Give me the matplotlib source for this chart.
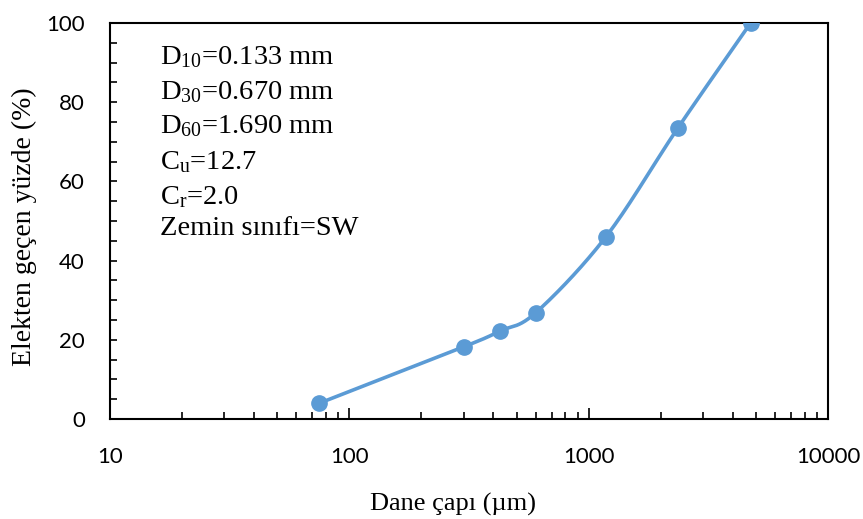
import numpy as np
import matplotlib
matplotlib.use('Agg')
import matplotlib.pyplot as plt
from matplotlib.ticker import MultipleLocator, FixedLocator, NullFormatter

# sieve sizes (um) and percent passing
grain_size = [75, 300, 425, 600, 1180, 2360, 4750]
passing = [4.0, 18.2, 22.2, 26.8, 46.0, 73.5, 100.0]

info_lines = [r'D$_{10}$=0.133 mm', r'D$_{30}$=0.670 mm', r'D$_{60}$=1.690 mm',
              r'C$_{\mathrm{u}}$=12.7', r'C$_{\mathrm{r}}$=2.0', 'Zemin sınıfı=SW']

plt.rcParams['mathtext.fontset'] = 'custom'
plt.rcParams['mathtext.rm'] = 'Liberation Serif'
plt.rcParams['mathtext.it'] = 'Liberation Serif:italic'

color = '#5B9BD5'


def smooth(xs, ys, n=40):
    # Excel-like smoothed line: cubic bezier with Catmull-Rom tangents in screen-ish space
    u = np.log10(xs) * 239.3
    v = np.array(ys) * 3.96
    P = np.column_stack([u, v])
    out = [P[0]]
    for i in range(len(P) - 1):
        p0 = P[i - 1] if i > 0 else P[i]
        p1, p2 = P[i], P[i + 1]
        p3 = P[i + 2] if i + 2 < len(P) else P[i + 1]
        c1 = p1 + (p2 - p0) / 6
        c2 = p2 - (p3 - p1) / 6
        t = np.linspace(0, 1, n)[1:, None]
        seg = ((1 - t) ** 3) * p1 + 3 * ((1 - t) ** 2) * t * c1 + 3 * (1 - t) * t ** 2 * c2 + t ** 3 * p2
        out.extend(seg)
    out = np.array(out)
    return 10 ** (out[:, 0] / 239.3), out[:, 1] / 3.96


fig = plt.figure(figsize=(8.63, 5.19), dpi=100)
ax = fig.add_axes([110 / 863, 1 - 419 / 519, 718 / 863, 396 / 519])

sx, sy = smooth(grain_size, passing)
ax.plot(sx, sy, color=color, lw=2.6, solid_capstyle='round', zorder=3)
ax.plot(grain_size, passing, 'o', color=color, ms=11, zorder=4)

ax.set_xscale('log')
ax.set_xlim(10, 10000)
ax.set_ylim(0, 100)
ax.yaxis.set_major_locator(MultipleLocator(20))
ax.yaxis.set_minor_locator(MultipleLocator(5))
ax.xaxis.set_major_locator(FixedLocator([10, 100, 1000, 10000]))
ax.xaxis.set_major_formatter(matplotlib.ticker.FuncFormatter(lambda v, p: '%d' % v))
ax.xaxis.set_minor_formatter(NullFormatter())

for s in ax.spines.values():
    s.set_linewidth(1.5)

ax.tick_params(axis='both', which='both', direction='in', width=1.2, labelsize=16)
ax.tick_params(axis='y', which='both', length=5, pad=18)
ax.tick_params(axis='x', which='major', length=8, pad=20)
ax.tick_params(axis='x', which='minor', length=5)
for lab in ax.get_xticklabels() + ax.get_yticklabels():
    lab.set_family('Lato')

ax.set_xlabel('Dane çapı (µm)', family='Liberation Serif', fontsize=19, labelpad=19)
ax.set_ylabel('Elekten geçen yüzde (%)', family='Liberation Serif', fontsize=20)
ax.xaxis.label.set_x(0.478)
ax.yaxis.set_label_coords(-0.102, 0.485)

ys_px = [57, 92, 126, 162, 197, 228]
for txt, ypx in zip(info_lines, ys_px):
    ax.text(50 / 718, (419 - ypx) / 396, txt, transform=ax.transAxes, va='center', ha='left',
            family='Liberation Serif', fontsize=20.5)

fig.savefig('out.png', dpi=100)
